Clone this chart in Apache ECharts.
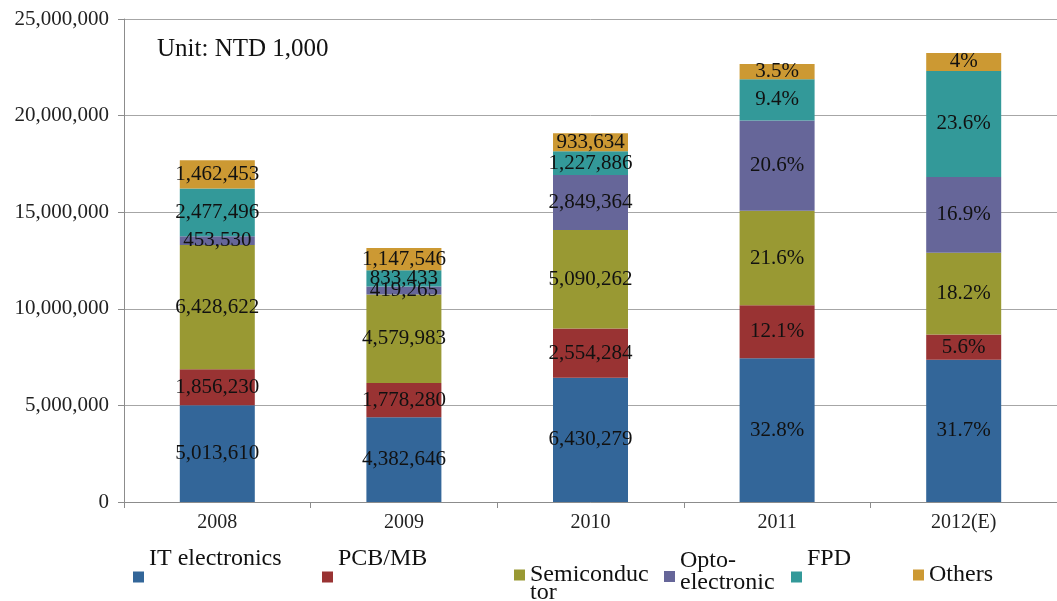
<!DOCTYPE html>
<html>
<head>
<meta charset="utf-8">
<script src="https://cdn.jsdelivr.net/npm/echarts@6/dist/echarts.min.js"></script>
<style>
html,body{margin:0;padding:0;background:#fff;}
#chart{width:1057px;height:601px;}
</style>
</head>
<body>
<div id="chart"></div>
<script>
const categories = ['2008', '2009', '2010', '2011', '2012(E)'];
const yTicks = [0, 5000000, 10000000, 15000000, 20000000, 25000000];

const itElectronics = [5013610, 4382646, 6430279, 7436000, 7367000];
const pcbMb = [1856230, 1778280, 2554284, 2743000, 1301000];
const semiconductor = [6428622, 4579983, 5090262, 4897000, 4230000];
const optoelectronic = [453530, 419265, 2849364, 4670000, 3928000];
const fpd = [2477496, 833433, 1227886, 2131000, 5485000];
const others = [1462453, 1147546, 933634, 793000, 930000];

const itShare = ['', '', '', '32.8%', '31.7%'];
const pcbShare = ['', '', '', '12.1%', '5.6%'];
const semiShare = ['', '', '', '21.6%', '18.2%'];
const optoShare = ['', '', '', '20.6%', '16.9%'];
const fpdShare = ['', '', '', '9.4%', '23.6%'];
const othersShare = ['', '', '', '3.5%', '4%'];

const seriesNames = ['IT electronics', 'PCB/MB', 'Semiconductor', 'Optoelectronic', 'FPD', 'Others'];
const colors = ['#336699', '#993333', '#999933', '#666699', '#339999', '#CC9933'];
const unitText = 'Unit: NTD 1,000';

const FONT = '"Liberation Serif", "Times New Roman", serif';
const fmt = v => v.toLocaleString('en-US');

const seriesData = [itElectronics, pcbMb, semiconductor, optoelectronic, fpd, others];
const shareData = [itShare, pcbShare, semiShare, optoShare, fpdShare, othersShare];

const series = seriesNames.map((name, i) => ({
  name: name,
  type: 'bar',
  stack: 'total',
  barWidth: 75,
  data: seriesData[i],
  itemStyle: { color: colors[i] },
  label: {
    show: true,
    position: 'inside',
    color: '#111',
    fontFamily: FONT,
    fontSize: 21,
    formatter: p => shareData[i][p.dataIndex] || fmt(p.value)
  },
  emphasis: { disabled: true }
}));

// legend text as rich tokens (wrapping + vertical offset from the marker)
const legendTexts = [
  '{b|IT electronics}',
  '{b|PCB/MB}',
  '{s18| }\n{n|Semiconduc}\n{n|tor}',
  '{o|Opto-}\n{o|electronic}\n{s9| }',
  '{b|FPD}',
  '{n|Others}'
];
const legendPos = [
  [133, 547],
  [322, 547],
  [514, 553],
  [664, 549],
  [791, 547],
  [913, 563]
];
const base = { fontFamily: FONT, fontSize: 24, color: '#111' };
const rich = {
  b: Object.assign({ lineHeight: 20, padding: [0, 0, 36, 0] }, base),
  n: Object.assign({ lineHeight: 18 }, base),
  o: Object.assign({ lineHeight: 22 }, base),
  s18: { fontFamily: FONT, fontSize: 8, lineHeight: 18 },
  s9: { fontFamily: FONT, fontSize: 8, lineHeight: 9 }
};

const legends = seriesNames.map((name, i) => ({
  data: [name],
  left: legendPos[i][0],
  top: legendPos[i][1],
  padding: 0,
  icon: 'rect',
  itemWidth: 11,
  itemHeight: 11,
  selectedMode: false,
  formatter: () => legendTexts[i],
  textStyle: Object.assign({ rich: rich }, base)
}));

const chart = echarts.init(document.getElementById('chart'), null, { renderer: 'canvas' });
chart.setOption({
  animation: false,
  backgroundColor: '#fff',
  title: {
    text: unitText,
    left: 157,
    top: 37,
    padding: 0,
    textStyle: { fontFamily: FONT, fontSize: 25, fontWeight: 'normal', color: '#111' }
  },
  legend: legends,
  grid: { left: 124, right: 0, top: 19, bottom: 99 },
  xAxis: {
    type: 'category',
    data: categories,
    axisLine: { lineStyle: { color: '#8c8c8c' } },
    axisTick: { show: true, length: 6, lineStyle: { color: '#8c8c8c' } },
    axisLabel: { fontFamily: FONT, fontSize: 20, color: '#222', margin: 11 }
  },
  yAxis: {
    type: 'value',
    min: yTicks[0],
    max: yTicks[yTicks.length - 1],
    interval: yTicks[1] - yTicks[0],
    axisLine: { show: true, lineStyle: { color: '#8c8c8c' } },
    axisTick: { show: true, length: 6, lineStyle: { color: '#8c8c8c' } },
    axisLabel: { fontFamily: FONT, fontSize: 21, color: '#222', margin: 15, formatter: v => fmt(v) },
    splitLine: { lineStyle: { color: '#a6a6a6' } }
  },
  series: series
});
</script>
</body>
</html>
